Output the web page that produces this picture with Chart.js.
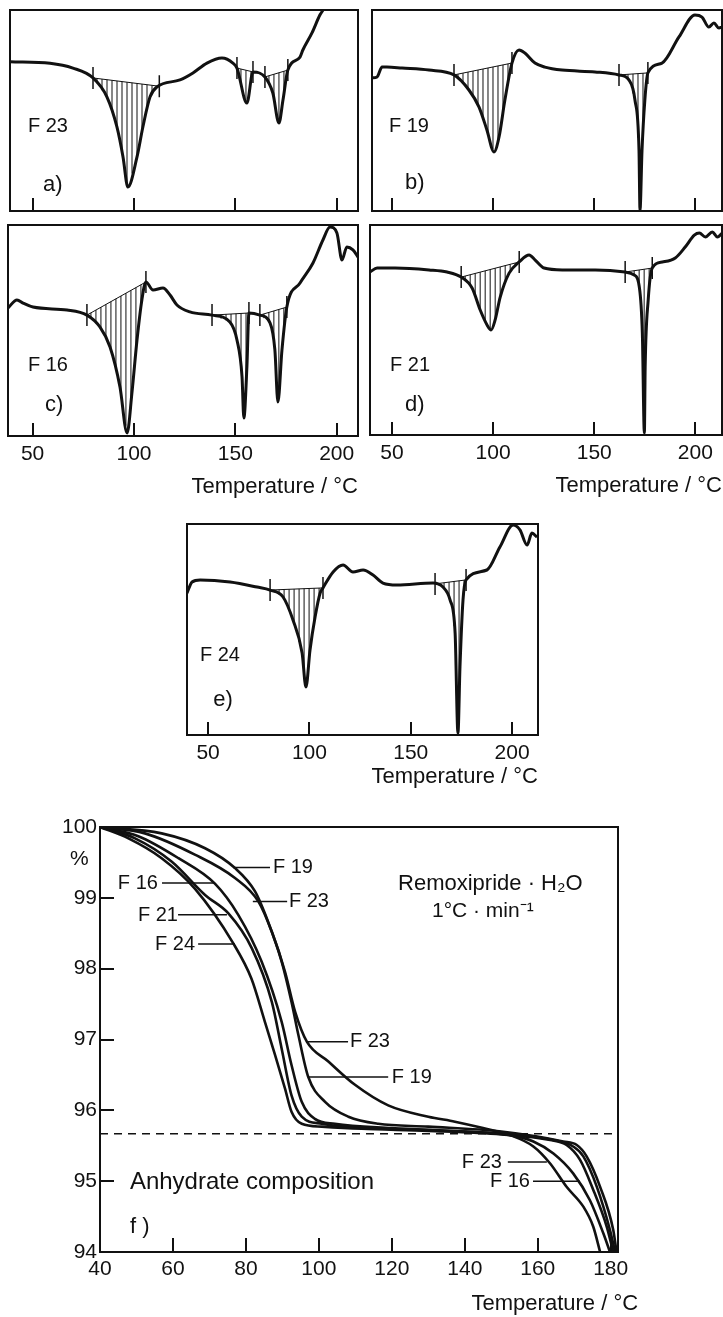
<!DOCTYPE html>
<html>
<head>
<meta charset="utf-8">
<script src="https://cdn.jsdelivr.net/npm/chart.js@4.4.1/dist/chart.umd.min.js"></script>
<style>
  html, body { margin: 0; padding: 0; background: #fff; }
  body { width: 723px; height: 1317px; position: relative; overflow: hidden; }
  canvas { position: absolute; }
</style>
</head>
<body>
<canvas id="pa" width="362" height="215" style="left:0;top:0"></canvas>
<canvas id="pb" width="361" height="215" style="left:362px;top:0"></canvas>
<canvas id="pc" width="362" height="295" style="left:0;top:215px"></canvas>
<canvas id="pd" width="361" height="295" style="left:362px;top:215px"></canvas>
<canvas id="pe" width="380" height="290" style="left:180px;top:510px"></canvas>
<canvas id="pf" width="683" height="507" style="left:40px;top:810px"></canvas>
<script>
// DSC traces (temperature in degC, signal in % of panel height)
const tA = [38.9, 58.6, 69.9, 79.8, 86.7, 91.6, 94.6, 97, 101.5, 104.4, 107.9, 111.3, 122.7, 129.1, 136, 143.4, 148.8, 150.8, 155.7, 158.7, 164.6, 168.5, 171.5, 173.5, 175.9, 181.9, 183.3, 187.8, 191.7, 193.2, 195.5];
const yA = [74.3, 73.5, 71.1, 66.2, 56.7, 41.8, 26.9, 11.9, 26.9, 41.8, 56.7, 61.7, 65.2, 68.7, 73.6, 76.1, 73.6, 71.1, 53.7, 69.2, 66.7, 58.7, 43.8, 55.2, 70.1, 76.6, 80.1, 88.6, 97.5, 100, 106];
const hatchA = [[79.8, 112.5], [150.8, 158.7], [164.6, 175.9]];

const tB = [40, 42.5, 45, 47.4, 54.9, 68.2, 80.6, 88, 93, 96.9, 100.4, 102.9, 105.8, 109.3, 112.8, 115.7, 120.7, 125.6, 134.1, 150.4, 162.3, 167.2, 170.2, 172.2, 172.7, 173.7, 175.1, 176.6, 183.6, 192, 199.9, 203.4, 206.8, 209.3, 211.8, 213.3];
const yB = [66.2, 66.7, 71.6, 71.6, 71.1, 70.1, 67.7, 60.2, 51.7, 40.3, 29.4, 36.8, 55.2, 73.6, 80.1, 78.6, 73.6, 71.6, 70.1, 69.2, 67.7, 65.2, 55.2, 30.3, 0.5, 30.3, 55.2, 68.7, 73.6, 86.6, 97.5, 96.5, 91.5, 93.5, 91, 91.5];
const hatchB = [[80.6, 109.3], [162.3, 176.6]];

const tC = [37.9, 42.3, 45.3, 50.2, 67, 76.8, 83.2, 88.2, 93.1, 96.6, 99, 101.5, 103.9, 105.9, 109.4, 114.3, 117.8, 121.2, 127.6, 138.5, 147.3, 150.8, 153.3, 154.2, 155.7, 156.7, 162.1, 167.1, 169.5, 171, 173, 175.4, 181.9, 188.3, 193.2, 196.7, 200.1, 202.6, 205, 208, 210.5];
const yC = [60.7, 64.5, 63, 61.1, 59.7, 57.3, 51.7, 42.2, 23.2, 1.4, 20.4, 45.5, 64.5, 73, 69.2, 70.1, 66.8, 62.1, 58.8, 57.3, 54, 45.5, 28, 8.5, 32.7, 58.3, 57.3, 53.6, 40.8, 16.1, 40.8, 61.1, 72.5, 82, 92.9, 99, 96.2, 83.4, 89.6, 88.2, 84.8];
const hatchC = [[76.8, 105.9], [138.5, 156.7], [162.1, 175.4]];

const tD = [39.1, 42.6, 51.5, 68.3, 77.2, 84.2, 89.6, 93.6, 97, 99, 101, 103.5, 107.9, 112.9, 117.8, 120.8, 125.2, 134.2, 150.5, 165.3, 169.8, 172.3, 173.8, 174.8, 175.2, 176.7, 178.7, 183.7, 190.1, 195, 199.5, 202, 205, 208.4, 210.9, 213.4];
const yD = [77.6, 79.5, 79.5, 78.6, 77.6, 75.2, 70, 59.5, 52.4, 50, 54.8, 65.7, 77.1, 82.4, 85.7, 83.3, 79.5, 78.6, 78.6, 77.6, 76.2, 70.5, 48.6, 1, 32.4, 64.3, 79.5, 82.4, 84.3, 89.5, 95.2, 96.2, 94.3, 96.7, 94.3, 96.2];
const hatchD = [[84.2, 112.9], [165.3, 178.7]];

const tE = [39.6, 42.1, 46.1, 60.9, 74.2, 80.6, 87, 91.9, 96.4, 98.3, 100.3, 102.8, 105.3, 106.7, 111.7, 116.6, 121.5, 126.5, 131.4, 136.3, 143.2, 161, 165.9, 169.4, 171.9, 173.3, 174.3, 175.8, 177.3, 187.6, 194, 200.5, 203.9, 207.4, 209.8, 212.3];
const yE = [67.3, 72.5, 73.5, 72.5, 70.1, 68.7, 65.4, 54.5, 38.9, 22.7, 40.3, 55.9, 67.3, 69.7, 77.3, 80.6, 77.3, 78.2, 75.8, 72, 71.1, 72, 70.1, 64, 48.3, 0.9, 32.2, 64, 73.5, 78.2, 89.1, 99.5, 97.2, 90, 95.7, 93.8];
const hatchE = [[80.6, 106.7], [162, 177.3]];

const dscTicks = [50, 100, 150, 200];

// TG curves (temperature in degC, mass in %)
const t19 = [40, 56.9, 68.8, 77, 82.5, 86.1, 89.8, 92.5, 94.4, 97.1, 101.7, 108.1, 116.3, 130, 150, 167, 170.7, 173.4, 177.1, 180.7, 181.6];
const w19 = [100, 99.91, 99.7, 99.42, 99.09, 98.66, 98.1, 97.53, 97.06, 96.47, 96.12, 95.91, 95.81, 95.77, 95.7, 95.56, 95.51, 95.35, 94.92, 94.31, 94];
const t23 = [40, 52.3, 66, 77, 83.4, 87.1, 90.7, 93.5, 96.7, 102.6, 109.9, 119, 130, 137.3, 145, 152.4, 158.8, 163.4, 167.9, 172.5, 175.2, 177.1];
const w23 = [100, 99.91, 99.61, 99.28, 98.95, 98.52, 97.96, 97.39, 96.97, 96.69, 96.36, 96.07, 95.91, 95.84, 95.75, 95.65, 95.49, 95.25, 94.92, 94.64, 94.36, 94];
const t16 = [40, 50.5, 61.5, 71.5, 77.9, 84.3, 89.8, 92.5, 95.3, 98.9, 104.4, 120, 140, 152.4, 158.8, 164.3, 169.7, 174.3, 178, 179.8];
const w16 = [100, 99.87, 99.56, 99.2, 98.76, 98.1, 97.25, 96.64, 96.12, 95.88, 95.81, 95.75, 95.7, 95.65, 95.56, 95.39, 95.11, 94.73, 94.26, 94];
const t21 = [40, 49.6, 59.7, 68.8, 75.2, 81.6, 87.1, 89.8, 92.5, 95.3, 100.8, 107.2, 130, 150, 166.1, 169.7, 172.5, 176.2, 179.8, 181.2];
const w21 = [100, 99.84, 99.51, 99.04, 98.78, 98.29, 97.53, 96.87, 96.21, 95.91, 95.81, 95.77, 95.72, 95.67, 95.56, 95.49, 95.35, 94.92, 94.31, 94];
const t24 = [40, 47.8, 56.9, 66, 76.5, 81.5, 85.2, 88, 90.7, 92.5, 95.3, 100.8, 111.7, 130, 150, 163.4, 167.9, 171.6, 175.2, 178.9, 180.7];
const w24 = [100, 99.84, 99.56, 99.13, 98.36, 97.86, 97.25, 96.78, 96.31, 95.98, 95.81, 95.77, 95.74, 95.71, 95.66, 95.58, 95.51, 95.3, 94.88, 94.36, 94];
const anhydrate = 95.67;
const tgXTicks = [40, 60, 80, 100, 120, 140, 160, 180];
const tgYTicks = [94, 95, 96, 97, 98, 99, 100];

const INK = '#111';
const FONT = '"Liberation Sans", Arial, sans-serif';

function pts(xs, ys) {
  return xs.map((v, i) => ({ x: v, y: ys[i] }));
}

function interp(xs, ys, x) {
  for (let i = 1; i < xs.length; i++) {
    if (x <= xs[i]) {
      const f = (x - xs[i - 1]) / (xs[i] - xs[i - 1]);
      return ys[i - 1] + f * (ys[i] - ys[i - 1]);
    }
  }
  return ys[ys.length - 1];
}

// keep the plot box where it is: labels may hang over the edges
function noOverhang(s) {
  s.paddingLeft = 0;
  s.paddingRight = 0;
  s.paddingTop = 0;
  s.paddingBottom = 0;
}

// frame, hatched peaks, limit marks, leader lines and text notes
function notes(cfg) {
  return {
    id: 'notes',
    afterDatasetsDraw(chart) {
      const { ctx, chartArea: a, scales: { x, y } } = chart;
      ctx.save();
      ctx.strokeStyle = INK;
      ctx.fillStyle = INK;
      ctx.lineWidth = 2;
      ctx.strokeRect(a.left, a.top, a.right - a.left, a.bottom - a.top);

      (cfg.hatch || []).forEach(([t1, t2]) => {
        const v1 = interp(cfg.t, cfg.y, t1), v2 = interp(cfg.t, cfg.y, t2);
        const p1 = x.getPixelForValue(t1), p2 = x.getPixelForValue(t2);
        ctx.lineWidth = 1;
        for (let px = p1 + 4; px < p2 - 1; px += 5) {
          const t = x.getValueForPixel(px);
          const base = v1 + (v2 - v1) * (t - t1) / (t2 - t1);
          ctx.beginPath();
          ctx.moveTo(px, y.getPixelForValue(base));
          ctx.lineTo(px, y.getPixelForValue(interp(cfg.t, cfg.y, t)));
          ctx.stroke();
        }
        ctx.beginPath();
        ctx.moveTo(p1, y.getPixelForValue(v1));
        ctx.lineTo(p2, y.getPixelForValue(v2));
        ctx.stroke();
        ctx.lineWidth = 1.5;
        [[p1, v1], [p2, v2]].forEach(([px, v]) => {
          const py = y.getPixelForValue(v);
          ctx.beginPath();
          ctx.moveTo(px, py - 11);
          ctx.lineTo(px, py + 11);
          ctx.stroke();
        });
      });

      ctx.lineWidth = 1.5;
      (cfg.leaders || []).forEach(([t1, t2, v]) => {
        const py = y.getPixelForValue(v);
        ctx.beginPath();
        ctx.moveTo(x.getPixelForValue(t1), py);
        ctx.lineTo(x.getPixelForValue(t2), py);
        ctx.stroke();
      });

      ctx.textBaseline = 'middle';
      (cfg.texts || []).forEach(([text, t, v, size, align]) => {
        ctx.font = size + 'px ' + FONT;
        ctx.textAlign = align || 'left';
        ctx.fillText(text, x.getPixelForValue(t), y.getPixelForValue(v));
      });
      ctx.restore();
    }
  };
}

function dscChart(id, t, y, range, hatch, texts, pad, axisHeight) {
  const labelled = axisHeight > 0;
  return new Chart(document.getElementById(id), {
    type: 'line',
    data: {
      datasets: [{
        data: pts(t, y),
        borderColor: INK,
        borderWidth: 3,
        pointRadius: 0,
        cubicInterpolationMode: 'monotone',
        fill: false
      }]
    },
    options: {
      responsive: false,
      animation: false,
      devicePixelRatio: 1,
      layout: { padding: pad },
      plugins: { legend: { display: false }, tooltip: { enabled: false } },
      scales: {
        x: {
          type: 'linear',
          min: range[0],
          max: range[1],
          afterBuildTicks: s => { s.ticks = dscTicks.map(v => ({ value: v })); },
          afterFit: s => { s.height = axisHeight; noOverhang(s); },
          border: { display: false },
          grid: { drawOnChartArea: false, tickLength: -13, lineWidth: 2, color: INK },
          ticks: { display: labelled, padding: 19, color: INK, font: { family: FONT, size: 21 }, maxRotation: 0, autoSkip: false },
          title: { display: labelled, text: 'Temperature / °C', align: 'end', color: INK, font: { family: FONT, size: 22 }, padding: 0 }
        },
        y: { display: false, min: 0, max: 100 }
      }
    },
    plugins: [notes({ t, y, hatch, texts })]
  });
}

dscChart('pa', tA, yA, [38.86, 210.5], hatchA,
  [['F 23', 47.7, 41.8, 20], ['a)', 55.1, 12.9, 22]],
  { left: 10, top: 10, right: 4, bottom: 4 }, 0);
dscChart('pb', tB, yB, [40, 213.3], hatchB,
  [['F 19', 48.4, 41.8, 20], ['b)', 56.3, 13.9, 22]],
  { left: 10, top: 10, right: 1, bottom: 4 }, 0);
dscChart('pc', tC, yC, [37.87, 210.5], hatchC,
  [['F 16', 47.7, 33.6, 20], ['c)', 56.1, 14.7, 22]],
  { left: 8, top: 10, right: 4, bottom: 10 }, 64);
dscChart('pd', tD, yD, [39.1, 213.2], hatchD,
  [['F 21', 49, 33.3, 20], ['d)', 56.4, 14.3, 22]],
  { left: 8, top: 10, right: 1, bottom: 11 }, 64);
dscChart('pe', tE, yE, [39.6, 212.8], hatchE,
  [['F 24', 46, 37.9, 20], ['e)', 52.5, 16.6, 22]],
  { left: 7, top: 14, right: 22, bottom: 10 }, 55);

// f) thermogravimetry
const tgLine = (t, w) => ({
  data: pts(t, w),
  borderColor: INK,
  borderWidth: 2.6,
  pointRadius: 0,
  cubicInterpolationMode: 'monotone',
  fill: false
});

new Chart(document.getElementById('pf'), {
  type: 'line',
  data: {
    datasets: [
      tgLine(t19, w19),
      tgLine(t23, w23),
      tgLine(t16, w16),
      tgLine(t21, w21),
      tgLine(t24, w24),
      {
        data: pts([40, 182], [anhydrate, anhydrate]),
        borderColor: INK,
        borderWidth: 1.5,
        borderDash: [8, 6],
        pointRadius: 0,
        fill: false
      }
    ]
  },
  options: {
    responsive: false,
    animation: false,
    devicePixelRatio: 1,
    layout: { padding: { left: 0, top: 17, right: 105, bottom: 0 } },
    plugins: { legend: { display: false }, tooltip: { enabled: false } },
    scales: {
      x: {
        type: 'linear',
        min: 40,
        max: 182,
        afterBuildTicks: s => { s.ticks = tgXTicks.map(v => ({ value: v })); },
        afterFit: s => { s.height = 65; noOverhang(s); },
        border: { display: false },
        grid: { drawOnChartArea: false, tickLength: -14, lineWidth: 2, color: INK },
        ticks: { padding: 19, color: INK, font: { family: FONT, size: 21 }, maxRotation: 0, autoSkip: false }
      },
      y: {
        type: 'linear',
        min: 94,
        max: 100,
        afterBuildTicks: s => { s.ticks = tgYTicks.map(v => ({ value: v })); },
        afterFit: s => { s.width = 60; noOverhang(s); },
        border: { display: false },
        grid: { drawOnChartArea: false, tickLength: -14, lineWidth: 2, color: INK },
        ticks: { padding: 17, color: INK, font: { family: FONT, size: 21 }, autoSkip: false }
      }
    }
  },
  plugins: [notes({
    leaders: [
      [76.5, 86.6, 99.43], [81.9, 91.3, 98.95], [57, 71.5, 99.21], [61.4, 74.8, 98.76],
      [66.9, 77, 98.35], [96.7, 108, 96.97], [97, 119, 96.47], [151.8, 162.5, 95.27], [158.7, 171.6, 95]
    ],
    texts: [
      ['F 19', 87.4, 99.43, 20], ['F 23', 91.8, 98.95, 20], ['F 16', 44.9, 99.2, 20],
      ['F 21', 50.4, 98.75, 20], ['F 24', 55.1, 98.34, 20], ['F 23', 108.5, 96.97, 20],
      ['F 19', 120, 96.47, 20], ['F 23', 139.2, 95.27, 20], ['F 16', 146.9, 94.99, 20],
      ['Remoxipride · H₂O', 121.7, 99.19, 22], ['1°C · min⁻¹', 131, 98.81, 21],
      ['Anhydrate composition', 48.2, 94.98, 24], ['f )', 48.2, 94.35, 22],
      ['%', 31.8, 99.54, 21], ['Temperature / °C', 187.5, 93.27, 22, 'right']
    ]
  })]
});
</script>
</body>
</html>
